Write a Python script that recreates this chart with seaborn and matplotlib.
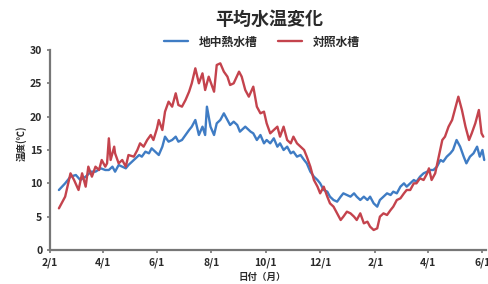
import matplotlib
matplotlib.use("Agg")
import matplotlib.pyplot as plt
import seaborn as sns
import pandas as pd

# ---- data ----
title = "平均水温変化"
series_names = ["地中熱水槽", "対照水槽"]
x_label = "日付（月）"
y_label = "温度(℃)"

start_date = "2021-02-01"
tick_dates = ["2021-02-01", "2021-04-01", "2021-06-01", "2021-08-01", "2021-10-01",
              "2021-12-01", "2022-02-01", "2022-04-01", "2022-06-01"]
tick_labels = ["2/1", "4/1", "6/1", "8/1", "10/1", "12/1", "2/1", "4/1", "6/1"]
y_ticks = [0, 5, 10, 15, 20, 25, 30]

# days after 2/1 and water temperature of the ground-heat tank (blue)
blue_days = [10, 17, 23, 29, 34, 40, 46, 51, 57, 62, 66, 70, 73, 77, 81, 85, 88, 92, 96, 100,
             103, 107, 111, 114, 118, 122, 126, 129, 133, 137, 141, 144, 148, 152, 156, 159, 163,
             167, 171, 174, 176, 180, 184, 187, 191, 195, 199, 202, 206, 210, 213, 219, 225, 228,
             232, 236, 240, 243, 247, 251, 255, 258, 262, 266, 270, 273, 277, 281, 285, 288, 292,
             296, 300, 303, 307, 311, 314, 318, 322, 326, 329, 333, 337, 341, 344, 348, 352, 356,
             359, 363, 367, 370, 374, 378, 382, 385, 389, 393, 397, 400, 404, 408, 411, 415, 419,
             423, 426, 430, 434, 438, 441, 445, 449, 452, 456, 460, 464, 467, 471, 475, 479, 482,
             485, 487]
blue_temp = [9, 10, 11, 11.25, 10.5, 11, 11.75, 11.75, 12.25, 12, 12, 12.5, 11.75, 12.75, 12.5,
             12.25, 12.75, 13.25, 13.75, 14.25, 14, 14.75, 14.5, 15.25, 14.75, 14.25, 15.5, 17,
             16.25, 16.5, 17, 16.25, 16.5, 17.25, 18, 18.5, 19.5, 17.25, 18.5, 17.25, 21.5, 18.5,
             17.25, 19, 19.5, 20.5, 19.5, 18.75, 19.25, 18.75, 17.75, 18.5, 17.75, 17.5, 16.5,
             17.25, 16, 16.5, 16, 16.75, 15.5, 16, 15, 15.5, 14.5, 14.75, 14, 14.25, 13.5, 13,
             11.75, 11, 10.5, 10, 9, 8.75, 8, 7.5, 7.25, 8, 8.5, 8.25, 8, 8.5, 8, 7.5, 8, 7.5, 8,
             7, 6.5, 7.5, 8, 8.5, 8.25, 8.75, 8.5, 9.5, 10, 9.5, 10, 10.5, 10.25, 11, 11.5, 11.75,
             12, 12, 12.5, 13.5, 13.25, 14, 14.5, 15, 16.5, 15.5, 14, 13, 14, 14.5, 15.5, 14, 15,
             13.5]

# days after 2/1 and water temperature of the control tank (red)
red_days = [10, 17, 23, 27, 32, 36, 40, 43, 47, 51, 55, 58, 62, 64, 66, 68, 72, 73, 77, 81,
            85, 88, 94, 98, 101, 105, 109, 113, 116, 120, 122, 126, 129, 133, 137, 141, 144, 148,
            152, 156, 159, 163, 167, 171, 174, 178, 184, 187, 191, 195, 199, 202, 206, 212, 215,
            219, 223, 228, 232, 236, 240, 243, 247, 251, 255, 258, 262, 266, 270, 273, 277, 281,
            285, 288, 292, 296, 300, 303, 307, 311, 314, 318, 322, 326, 329, 333, 337, 341, 344,
            348, 352, 356, 359, 363, 367, 370, 374, 378, 382, 385, 389, 393, 397, 400, 404, 408,
            411, 415, 419, 423, 425, 428, 432, 436, 440, 443, 447, 451, 455, 458, 462, 466, 470,
            473, 477, 481, 484, 486]
red_temp = [6.25, 8, 11.5, 10.5, 9, 11.5, 9.5, 12.5, 11, 12.5, 12, 13.5, 12.5, 13, 16.75, 13.5,
            15.5, 14.5, 13, 13.5, 12.5, 14.25, 14, 15, 16, 15.5, 16.5, 17.25, 16.5, 18.25, 19.5,
            18, 20.75, 22.25, 21.5, 23.5, 21.75, 21.5, 22.5, 23.75, 25, 27.25, 25, 26.5, 24, 26,
            23.75, 27.75, 28, 26.75, 26, 24.75, 25, 26.75, 26, 24, 23, 24.5, 21.5, 20.5, 20.75,
            19, 17.5, 18, 18.5, 17, 18.5, 16.5, 16, 17, 16, 15.5, 15, 14, 12.5, 10.5, 9.5, 8.5,
            9.5, 8, 7, 6.5, 5.5, 4.5, 5, 5.75, 5.5, 5, 4.5, 5.5, 4, 4.25, 3.5, 3, 3.25, 5, 5.5,
            5.25, 6, 6.5, 7.5, 7.75, 8.5, 9, 9, 10, 10, 10.75, 10.5, 11.5, 12.25, 10.5, 11.5, 14,
            16.5, 17, 18.5, 19.5, 21.5, 23, 21, 18.5, 16.5, 17.5, 19, 21, 17.5, 17]

# ---- styling ----
BLUE = "#3f7cc4"
RED = "#c4434d"
AXIS = "#777777"
TEXT = "#2a2a2a"

sns.set_theme(style="white")
plt.rcParams["font.family"] = ["Noto Sans CJK JP", "DejaVu Sans"]

start = pd.Timestamp(start_date)
df_blue = pd.DataFrame({"date": start + pd.to_timedelta(blue_days, unit="D"), "temp": blue_temp})
df_red = pd.DataFrame({"date": start + pd.to_timedelta(red_days, unit="D"), "temp": red_temp})

fig = plt.figure(figsize=(4.89, 2.84), dpi=100)
ax = fig.add_axes([50 / 489, 34 / 284, 436 / 489, 200 / 284])

sns.lineplot(data=df_blue, x="date", y="temp", color=BLUE, linewidth=1.7,
             estimator=None, ax=ax, label=series_names[0])
sns.lineplot(data=df_red, x="date", y="temp", color=RED, linewidth=1.7,
             estimator=None, ax=ax, label=series_names[1])

ax.set_xlim(start, start + pd.Timedelta(days=489))
ax.set_ylim(0, 30)
ax.set_xticks(pd.to_datetime(tick_dates))
ax.set_xticklabels(tick_labels)
ax.set_yticks(y_ticks)
ax.set_yticklabels([str(v) for v in y_ticks])

for s in ["top", "right"]:
    ax.spines[s].set_visible(False)
for s in ["left", "bottom"]:
    ax.spines[s].set_color(AXIS)
    ax.spines[s].set_linewidth(1.6)

ax.tick_params(axis="both", which="major", length=2.5, width=1.2, color=AXIS,
               labelsize=7.5, labelcolor=TEXT, pad=3, bottom=True, left=True)
for lab in ax.get_xticklabels() + ax.get_yticklabels():
    lab.set_fontweight("bold")

ax.set_xlabel("")
ax.set_ylabel("")
fig.text(262 / 489, 1 - 277 / 284, x_label, ha="center", va="center",
         fontsize=6.8, fontweight="bold", color=TEXT)
fig.text(21 / 489, 1 - 143 / 284, y_label, ha="center", va="center", rotation=90,
         fontsize=6.8, fontweight="bold", color=TEXT)

fig.text(269 / 489, 1 - 19 / 284, title, ha="center", va="center",
         fontsize=13, fontweight="bold", color=TEXT)

handles, labels = ax.get_legend_handles_labels()
ax.legend(handles, labels, loc="center", bbox_to_anchor=(262 / 489, 1 - 42 / 284),
          bbox_transform=fig.transFigure, ncol=2, frameon=False,
          prop={"size": 8.5, "weight": "bold"}, handlelength=2.0, handletextpad=0.9,
          columnspacing=1.8, labelcolor=TEXT)

fig.savefig("out.png", dpi=100)
